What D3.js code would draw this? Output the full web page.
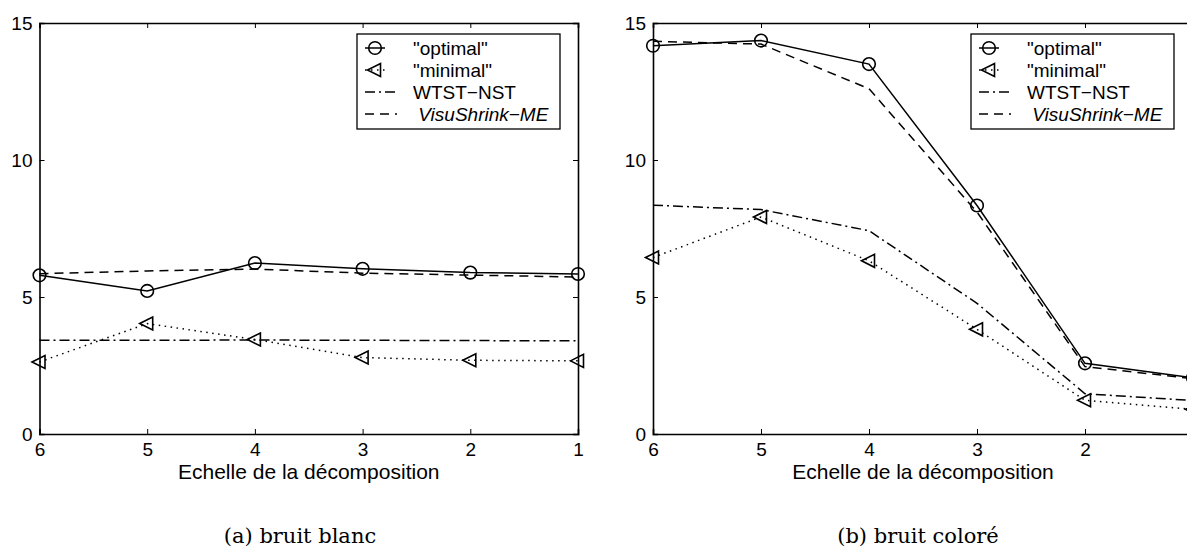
<!DOCTYPE html>
<html>
<head>
<meta charset="utf-8">
<script src="https://cdn.jsdelivr.net/npm/d3@7"></script>
<style>
  html, body { margin: 0; padding: 0; background: #fff; overflow: hidden; }
  svg { display: block; }
  text { font-family: "Liberation Sans", Arial, Helvetica, sans-serif; fill: #000; }
  .caption { font-family: "DejaVu Serif", "Liberation Serif", serif; }
</style>
</head>
<body>
<svg id="chart" width="1187" height="555"></svg>
<script>
// ---- data ----
const scales = [6, 5, 4, 3, 2, 1];
const yTicks = [0, 5, 10, 15];
const seriesNames = ['"optimal"', '"minimal"', 'WTST\u2212NST', ' VisuShrink\u2212ME'];

// (a) bruit blanc
const whiteOptimal = [5.79, 5.22, 6.24, 6.03, 5.89, 5.84];
const whiteMinimal = [2.63, 4.03, 3.45, 2.79, 2.69, 2.67];
const whiteWtst    = [3.42, 3.42, 3.43, 3.42, 3.41, 3.40];
const whiteVisu    = [5.85, 5.95, 6.02, 5.87, 5.80, 5.73];

// (b) bruit coloré
const colOptimal = [14.17, 14.36, 13.50, 8.34, 2.58, 2.05];
const colMinimal = [6.44, 7.92, 6.32, 3.82, 1.23, 0.90];
const colWtst    = [8.35, 8.19, 7.42, 4.77, 1.47, 1.22];
const colVisu    = [14.33, 14.23, 12.60, 8.10, 2.46, 2.02];

const captions = ["(a) bruit blanc", "(b) bruit color\u00e9"];
const xLabel = "Echelle de la d\u00e9composition";

// ---- styles ----
const styles = [
  { dash: null,          marker: "circle" },
  { dash: "1.5,4.5",     marker: "triangle" },
  { dash: "10,4,2,4",    marker: null },
  { dash: "9,6",         marker: null }
];

const svg = d3.select("#chart");

const panels = [
  { x0: 39.5, x1: 578, series: [whiteOptimal, whiteMinimal, whiteWtst, whiteVisu], legendX: 357, caption: captions[0], capX: 300 },
  { x0: 653,  x1: 1193, series: [colOptimal, colMinimal, colWtst, colVisu], legendX: 971, caption: captions[1], capX: 918 }
];
const yTop = 23, yBot = 434;
const W = 1187;

function drawMarker(g, type, cx, cy) {
  if (type === "circle") {
    g.append("circle").attr("cx", cx).attr("cy", cy).attr("r", 6.3)
      .attr("fill", "none").attr("stroke", "#000").attr("stroke-width", 1.6);
  } else if (type === "triangle") {
    g.append("path")
      .attr("d", `M${cx - 7.5},${cy} L${cx + 5.5},${cy - 6.5} L${cx + 5.5},${cy + 6.5} Z`)
      .attr("fill", "none").attr("stroke", "#000").attr("stroke-width", 1.6)
      .attr("stroke-linejoin", "miter");
  }
}

panels.forEach(p => {
  const x = d3.scaleLinear().domain([6, 1]).range([p.x0, p.x1]);
  const y = d3.scaleLinear().domain([0, 15]).range([yBot, yTop]);
  const g = svg.append("g");

  const tickLen = 5;
  const bottom = d3.axisBottom(x).tickValues(scales).tickFormat(d3.format("d")).tickSize(-tickLen).tickPadding(0);
  const gb = g.append("g").attr("transform", `translate(0,${yBot})`).call(bottom);
  gb.selectAll("text").attr("y", 22).attr("dy", 0).style("font-size", "19px");
  // labels lying outside the picture are not shown (as in the reference)
  gb.selectAll(".tick").filter(d => x(d) > W).select("text").remove();
  const top = d3.axisTop(x).tickValues(scales).tickFormat("").tickSize(-tickLen);
  g.append("g").attr("transform", `translate(0,${yTop})`).call(top);
  const left = d3.axisLeft(y).tickValues(yTicks).tickFormat(d3.format("d")).tickSize(-tickLen).tickPadding(7);
  const gl = g.append("g").attr("transform", `translate(${p.x0},0)`).call(left);
  gl.selectAll("text").style("font-size", "19px").attr("dy", "0.35em");
  const right = d3.axisRight(y).tickValues(yTicks).tickFormat("").tickSize(-tickLen);
  g.append("g").attr("transform", `translate(${p.x1},0)`).call(right);

  g.selectAll(".domain").attr("stroke", "#000").attr("stroke-width", 1.6);
  g.selectAll(".tick line").attr("stroke", "#000").attr("stroke-width", 1);
  g.selectAll("g text").attr("font-family", null);

  // x label
  g.append("text").attr("x", (p.x0 + p.x1) / 2).attr("y", 479)
    .attr("text-anchor", "middle").style("font-size", "21px").text(xLabel);

  // series
  const line = d3.line().x((d, i) => x(scales[i])).y(d => y(d));
  p.series.forEach((vals, si) => {
    const st = styles[si];
    g.append("path").datum(vals).attr("d", line)
      .attr("fill", "none").attr("stroke", "#000").attr("stroke-width", 1.5)
      .attr("stroke-dasharray", st.dash);
    if (st.marker) {
      vals.forEach((v, i) => drawMarker(g, st.marker, x(scales[i]), y(v)));
    }
  });

  // legend
  const lx = p.legendX, ly = 34, lw = 203, lh = 95;
  const lg = g.append("g");
  lg.append("rect").attr("x", lx).attr("y", ly).attr("width", lw).attr("height", lh)
    .attr("fill", "#fff").attr("stroke", "#000").attr("stroke-width", 1.3);
  seriesNames.forEach((name, i) => {
    const ry = ly + 14 + i * 22;
    const st = styles[i];
    const x1 = lx + 8, x2 = st.marker ? lx + 28 : lx + 40;
    lg.append("line").attr("x1", x1).attr("x2", x2).attr("y1", ry).attr("y2", ry)
      .attr("stroke", "#000").attr("stroke-width", 1.5).attr("stroke-dasharray", st.dash);
    if (st.marker) drawMarker(lg, st.marker, (x1 + x2) / 2, ry);
    const t = lg.append("text").attr("x", lx + 56).attr("y", ry).attr("dy", "0.35em")
      .style("font-size", "19px").attr("xml:space", "preserve").text(name);
    if (i === 3) t.style("font-style", "italic");
  });

  // caption
  svg.append("text").attr("class", "caption").attr("x", p.capX).attr("y", 543)
    .attr("text-anchor", "middle").style("font-size", "21px").text(p.caption);
});
</script>
</body>
</html>
